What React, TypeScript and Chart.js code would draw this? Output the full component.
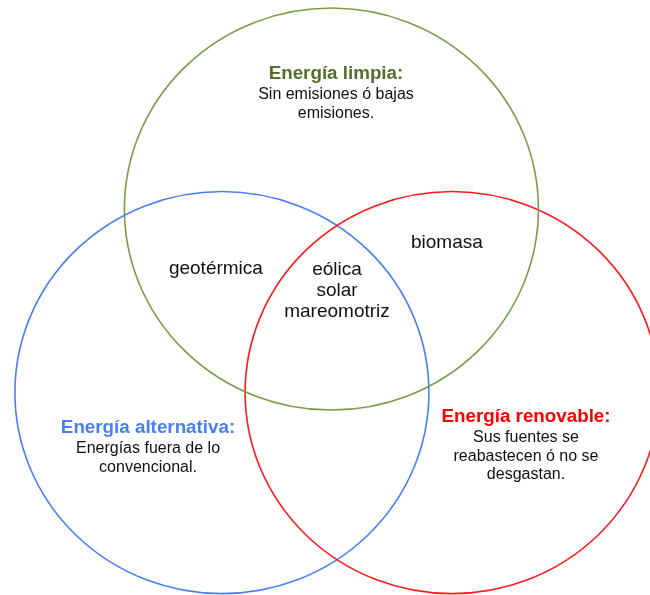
import React, { useEffect, useRef } from "react";
import { Chart, registerables } from "chart.js";

Chart.register(...registerables);

// Venn sets (units: 1 = circle radius; origin between blue and red centres, y up)
const setNames = ["Energía alternativa", "Energía renovable", "Energía limpia"];
const setCenterX = [-0.556, 0.556, -0.027];
const setCenterY = [0.0, 0.0, 0.913];
const setRadius = [1.0, 1.0, 1.0];
const setColors = ["#4a7ef6", "#ff1a1a", "#7d9a4a"];

// Text blocks
const blockX = [-0.005, -0.585, 0.0, 0.531, -0.913, 0.913];
const blockY = [1.584, 0.614, 0.609, 0.744, -0.177, -0.122];
const blockTitles = ["Energía limpia:", "", "", "", "Energía alternativa:", "Energía renovable:"];
const blockTitleColors = ["#536f2c", "", "", "", "#4a7ef6", "#ff0000"];
const blockLines = [
  ["Sin emisiones ó bajas", "emisiones."],
  ["geotérmica"],
  ["eólica", "solar", "mareomotriz"],
  ["biomasa"],
  ["Energías fuera de lo", "convencional."],
  ["Sus fuentes se", "reabastecen ó no se", "desgastan."],
];

// Axis extents
const xRange = [-1.628, 1.512];
const yRange = [-1.007, 1.953];

const FONT = "'Liberation Sans', Arial, Helvetica, sans-serif";

const vennPlugin = {
  id: "venn",
  afterDatasetsDraw(chart: any) {
    const { ctx, scales } = chart;
    const xs = scales.x;
    const ys = scales.y;
    ctx.save();
    setNames.forEach((_, i) => {
      const cx = xs.getPixelForValue(setCenterX[i]);
      const cy = ys.getPixelForValue(setCenterY[i]);
      const rx = Math.abs(xs.getPixelForValue(setCenterX[i] + setRadius[i]) - cx);
      const ry = Math.abs(ys.getPixelForValue(setCenterY[i] + setRadius[i]) - cy);
      ctx.beginPath();
      ctx.ellipse(cx, cy, rx, ry, 0, 0, Math.PI * 2);
      ctx.strokeStyle = setColors[i];
      ctx.lineWidth = 1.6;
      ctx.stroke();
    });
    // text
    ctx.textAlign = "center";
    ctx.textBaseline = "middle";
    blockLines.forEach((lines, i) => {
      const px = xs.getPixelForValue(blockX[i]);
      let py = ys.getPixelForValue(blockY[i]);
      const hasTitle = blockTitles[i] !== "";
      if (hasTitle) {
        ctx.font = `bold 18.8px ${FONT}`;
        ctx.fillStyle = blockTitleColors[i];
        ctx.fillText(blockTitles[i], px, py);
        py += 20.5;
      }
      const inner = !hasTitle;
      ctx.font = inner ? `19px ${FONT}` : `16px ${FONT}`;
      ctx.fillStyle = "#111111";
      lines.forEach((l, j) => {
        ctx.fillText(l, px, py + j * (inner ? 21 : 18.7));
      });
    });
    ctx.restore();
  },
};

export default function App() {
  const ref = useRef<HTMLCanvasElement | null>(null);
  useEffect(() => {
    document.body.style.margin = "0";
    const canvas = ref.current!;
    const chart = new Chart(canvas, {
      type: "scatter",
      data: {
        datasets: [
          {
            label: "centros",
            data: setCenterX.map((x, i) => ({ x, y: setCenterY[i] })),
            pointRadius: 0,
            showLine: false,
          },
        ],
      },
      options: {
        animation: false,
        responsive: false,
        maintainAspectRatio: false,
        devicePixelRatio: 1,
        layout: { padding: 0 },
        plugins: { legend: { display: false }, tooltip: { enabled: false } },
        events: [],
        scales: {
          x: { type: "linear", min: xRange[0], max: xRange[1], display: false },
          y: { type: "linear", min: yRange[0], max: yRange[1], display: false },
        },
      },
      plugins: [vennPlugin],
    });
    return () => chart.destroy();
  }, []);
  return (
    <div style={{ width: 650, height: 595, background: "#ffffff" }}>
      <canvas ref={ref} width={650} height={595} />
    </div>
  );
}
